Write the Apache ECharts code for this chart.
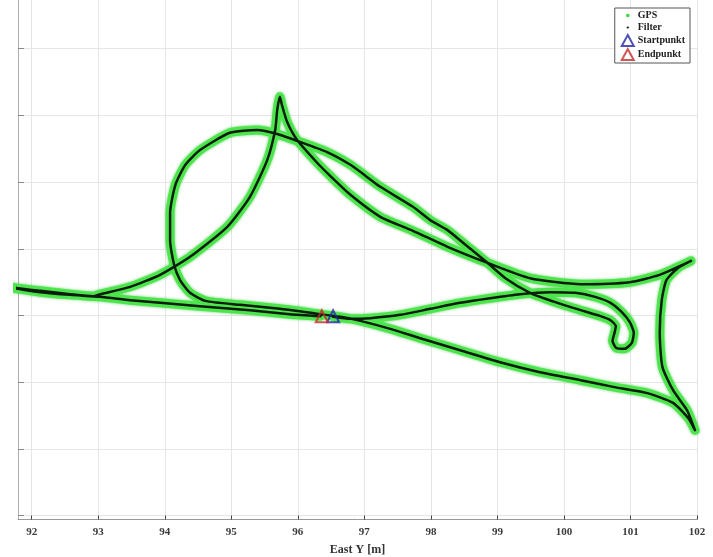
<!DOCTYPE html>
<html>
<head>
<meta charset="utf-8">
<script src="https://cdn.jsdelivr.net/npm/echarts@6/dist/echarts.min.js"></script>
<style>
  html, body { margin: 0; padding: 0; background: #fff; }
  #chart { width: 713px; height: 557px; }
</style>
</head>
<body>
<div id="chart"></div>
<script>
// Axis ticks (metres)
const tickEast = [92, 93, 94, 95, 96, 97, 98, 99, 100, 101, 102];
const tickNorth = [-3, -2, -1, 0, 1, 2, 3, 4];

// Driven track, East / North in metres (start -> end)
const trackEast = [
  96.53, 96.79, 97.09, 97.54, 97.99, 98.44, 98.89, 99.34, 99.79, 100.17, 100.47, 100.70, 100.87, 100.99,
  101.05, 101.02, 100.91, 100.79, 100.73, 100.76, 100.78, 100.70, 100.55, 100.25, 99.87, 99.49, 99.12,
  98.85, 98.52, 98.25, 97.99, 97.73, 97.24, 97.01, 96.79, 96.44, 96.04, 95.69, 95.39, 94.98, 94.53, 94.31,
  94.16, 94.08, 94.08, 94.14, 94.23, 94.38, 94.61, 95.13, 95.73, 96.19, 96.64, 96.94, 97.39, 97.84,
  98.44, 99.04, 99.64, 100.25, 100.74, 101.24, 101.64, 101.87, 101.97,
  101.85, 101.64, 101.48, 101.44, 101.47, 101.54, 101.71, 101.91,
  101.74, 101.44, 100.99, 100.25, 99.49, 98.85, 98.25, 97.73, 97.24, 96.79, 96.49, 96.29, 95.99,
  95.84, 95.76, 95.73,
  95.69, 95.66, 95.54, 95.28, 94.94, 94.38, 93.93, 93.48, 93.03, 92.92, 92.58, 92.13, 91.79, 91.52, 91.37,
  91.52, 91.79, 92.13, 92.58, 93.03, 93.48, 93.93, 94.53, 95.28, 95.88, 96.34
];
const trackNorth = [
  -0.02, -0.05, -0.04, 0.01, 0.10, 0.19, 0.26, 0.32, 0.35, 0.34, 0.28, 0.19, 0.05, -0.10,
  -0.26, -0.41, -0.50, -0.49, -0.38, -0.26, -0.16, -0.07, -0.01, 0.08, 0.20, 0.34, 0.56,
  0.79, 1.06, 1.28, 1.43, 1.63, 1.93, 2.10, 2.26, 2.45, 2.60, 2.72, 2.78, 2.74, 2.48, 2.26,
  1.96, 1.54, 1.13, 0.76, 0.53, 0.34, 0.22, 0.16, 0.10, 0.04, -0.02, -0.08, -0.20, -0.34,
  -0.52, -0.70, -0.85, -0.97, -1.07, -1.16, -1.31, -1.54, -1.72,
  -1.42, -1.12, -0.77, -0.26, 0.23, 0.53, 0.71, 0.82,
  0.74, 0.61, 0.50, 0.47, 0.56, 0.79, 1.03, 1.27, 1.48, 1.81, 2.09, 2.29, 2.63,
  2.90, 3.16, 3.28,
  3.08, 2.78, 2.33, 1.78, 1.33, 0.88, 0.61, 0.43, 0.32, 0.29, 0.32, 0.37, 0.41, 0.46, 0.47,
  0.44, 0.40, 0.35, 0.31, 0.28, 0.23, 0.19, 0.14, 0.08, 0.02, -0.01
];

// Start / end markers
const startEast = [96.53];
const startNorth = [-0.01];
const endEast = [96.36];
const endNorth = [-0.01];

const seriesNames = ['GPS', 'Filter', 'Startpunkt', 'Endpunkt'];

const pairs = (xs, ys) => xs.map((x, i) => [x, ys[i]]);
const serif = 'Liberation Serif';

// small centred dot, padded by invisible move-to corners
const dotIcon = 'path://M0 0M12 12M4 6a2 2 0 1 0 4 0a2 2 0 1 0 -4 0Z';
const tinyDotIcon = 'path://M0 0M12 12M4.8 6a1.2 1.2 0 1 0 2.4 0a1.2 1.2 0 1 0 -2.4 0Z';

const chart = echarts.init(document.getElementById('chart'), null, { renderer: 'canvas' });

chart.setOption({
  animation: false,
  backgroundColor: '#ffffff',
  grid: { left: 18, right: 16, top: 0, bottom: 37.5, containLabel: false, outerBoundsMode: 'none' },
  xAxis: {
    type: 'value',
    min: 91.794,
    max: 102,
    name: 'East Y [m]',
    nameLocation: 'middle',
    nameGap: 24,
    nameTextStyle: { fontFamily: serif, fontWeight: 'bold', fontSize: 12, color: '#333' },
    axisLine: { show: true, onZero: false, lineStyle: { color: '#9a9a9a', width: 1 } },
    axisTick: { show: true, inside: true, length: 4, customValues: tickEast, lineStyle: { color: '#444' } },
    axisLabel: { customValues: tickEast, fontFamily: serif, fontWeight: 'bold', fontSize: 11, color: '#3a3a3a', margin: 7 },
    splitLine: { show: true, lineStyle: { color: '#e6e6e6', width: 1 } }
  },
  yAxis: {
    type: 'value',
    min: -3.058,
    max: 4.73,
    axisLine: { show: true, onZero: false, lineStyle: { color: '#b0b0b0', width: 1 } },
    axisTick: { show: true, inside: true, length: 6, customValues: tickNorth, lineStyle: { color: '#8a8a8a' } },
    axisLabel: { show: false, customValues: tickNorth },
    splitLine: { show: true, lineStyle: { color: '#e6e6e6', width: 1 } }
  },
  legend: {
    show: true,
    orient: 'vertical',
    right: 23,
    top: 8,
    itemGap: 1,
    itemWidth: 12,
    itemHeight: 11,
    backgroundColor: '#ffffff',
    borderColor: '#555',
    borderWidth: 1,
    borderRadius: 0,
    padding: [2, 5, 2, 6],
    textStyle: { fontFamily: serif, fontWeight: 'bold', fontSize: 10, color: '#222', padding: [0, 0, 0, -1] },
    data: [
      { name: seriesNames[0], icon: dotIcon, itemStyle: { color: '#3fdc3f' } },
      { name: seriesNames[1], icon: tinyDotIcon, itemStyle: { color: '#111' } },
      { name: seriesNames[2], icon: 'triangle', itemStyle: { color: 'rgba(255,255,255,0)', borderColor: '#2424a8', borderWidth: 2 } },
      { name: seriesNames[3], icon: 'triangle', itemStyle: { color: 'rgba(255,255,255,0)', borderColor: '#c42a2a', borderWidth: 2 } }
    ]
  },
  series: [
    {
      name: seriesNames[0],
      type: 'line',
      data: pairs(trackEast, trackNorth),
      showSymbol: false,
      symbol: 'none',
      smooth: 0.2,
      z: 2,
      itemStyle: { color: '#3fdc3f' },
      lineStyle: {
        color: '#4ce64c', width: 9, cap: 'round', join: 'round',
        shadowColor: 'rgba(40,190,40,0.7)', shadowBlur: 3
      },
      silent: true
    },
    {
      name: seriesNames[1],
      type: 'line',
      data: pairs(trackEast, trackNorth),
      showSymbol: false,
      symbol: 'none',
      smooth: 0.2,
      z: 3,
      itemStyle: { color: '#111' },
      lineStyle: { color: '#0b1d0b', width: 2.5, cap: 'round', join: 'round' },
      silent: true
    },
    {
      name: seriesNames[2],
      type: 'scatter',
      data: pairs(startEast, startNorth),
      symbol: 'triangle',
      symbolSize: 12,
      z: 5,
      itemStyle: { color: 'rgba(255,255,255,0)', borderColor: '#2424a8', borderWidth: 2 }
    },
    {
      name: seriesNames[3],
      type: 'scatter',
      data: pairs(endEast, endNorth),
      symbol: 'triangle',
      symbolSize: 12,
      z: 5,
      itemStyle: { color: 'rgba(255,255,255,0)', borderColor: '#c42a2a', borderWidth: 2 }
    }
  ]
});
</script>
</body>
</html>
